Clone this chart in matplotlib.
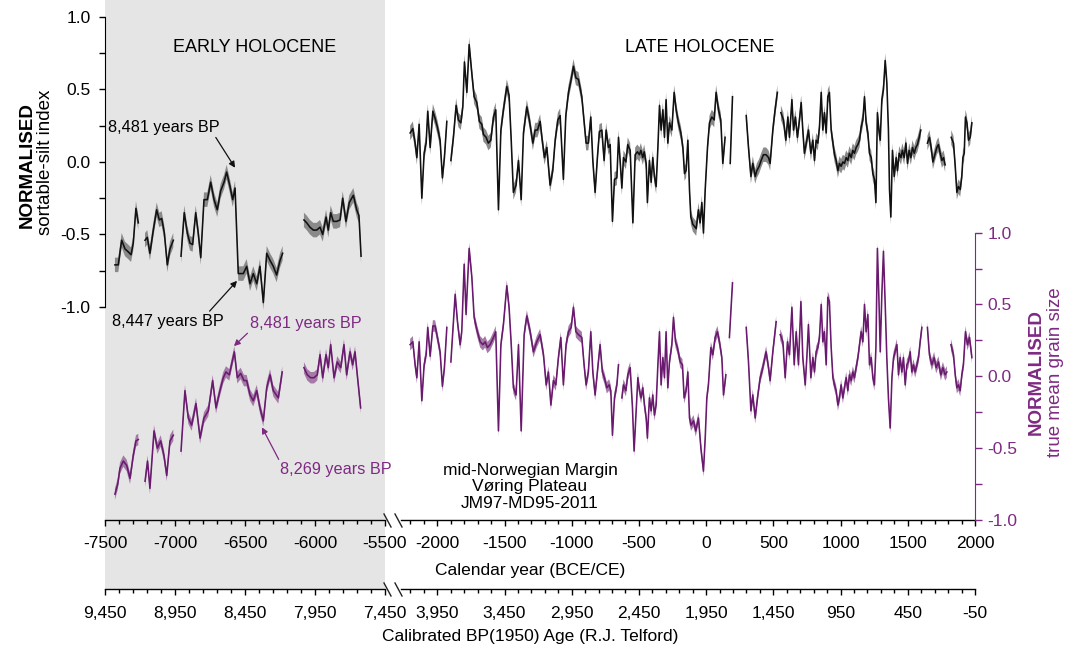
import numpy as np
import matplotlib
matplotlib.use('Agg')
import matplotlib.pyplot as plt
from matplotlib.ticker import FixedLocator, MultipleLocator, FormatStrFormatter, FuncFormatter
from matplotlib.patches import Rectangle
from matplotlib.lines import Line2D

plt.rcParams['font.family'] = ['Liberation Sans', 'DejaVu Sans']
plt.rcParams['axes.unicode_minus'] = False
plt.rcParams['font.size'] = 12.5

nan = np.nan

# ---- data: (calendar year, normalised value); nan marks a gap in the record ----
silt_early = [
    (-7429, -0.71), (-7405, -0.71), (-7381, -0.54), (-7357, -0.60), (-7334, -0.62), (-7314, -0.64),
    (-7298, -0.56), (-7279, -0.32), (-7262, -0.42), (-7240, nan),
    (-7214, -0.54), (-7198, -0.52), (-7179, -0.63), (-7155, -0.47), (-7131, -0.33), (-7112, -0.40),
    (-7095, -0.39), (-7076, -0.49), (-7055, -0.71), (-7036, -0.60), (-7012, -0.54), (-6985, nan),
    (-6957, -0.65), (-6934, -0.35), (-6912, -0.49), (-6893, -0.56), (-6874, -0.57), (-6852, -0.35),
    (-6834, -0.49), (-6816, -0.66), (-6793, -0.26), (-6769, -0.26), (-6745, -0.14), (-6721, -0.26),
    (-6698, -0.33), (-6674, -0.20), (-6650, -0.14), (-6631, -0.07), (-6607, -0.17), (-6588, -0.26),
    (-6571, -0.18), (-6548, -0.77), (-6512, -0.77), (-6488, -0.72), (-6464, -0.84), (-6441, -0.77),
    (-6416, -0.84), (-6393, -0.72), (-6369, -0.97), (-6345, -0.63), (-6321, -0.68), (-6298, -0.72),
    (-6274, -0.78), (-6250, -0.68), (-6231, -0.63), (-6150, nan),
    (-6079, -0.40), (-6059, -0.42), (-6036, -0.45), (-6012, -0.47), (-5988, -0.47), (-5964, -0.45),
    (-5945, -0.50), (-5921, -0.38), (-5905, -0.47), (-5888, -0.35), (-5869, -0.41), (-5845, -0.41),
    (-5821, -0.40), (-5802, -0.25), (-5779, -0.41), (-5755, -0.28), (-5726, -0.23), (-5702, -0.33),
    (-5686, -0.37), (-5671, -0.65),
]

silt_late = [
    (-2202, 0.20), (-2182, 0.23), (-2165, 0.13), (-2152, 0.03), (-2135, 0.26), (-2115, -0.25),
    (-2098, 0.06), (-2083, 0.13), (-2071, 0.35), (-2053, 0.10), (-2033, 0.35), (-2016, 0.30),
    (-1999, 0.24), (-1979, 0.15), (-1962, -0.11), (-1947, 0.03), (-1929, 0.28), (-1914, nan),
    (-1899, 0.01), (-1880, 0.17), (-1860, 0.39), (-1843, 0.29), (-1825, 0.27), (-1810, 0.38),
    (-1798, 0.69), (-1780, 0.48), (-1763, 0.81), (-1743, 0.61), (-1726, 0.45), (-1706, 0.41),
    (-1687, 0.28), (-1669, 0.26), (-1657, 0.19), (-1637, 0.17), (-1620, 0.13), (-1602, 0.15),
    (-1582, 0.31), (-1565, 0.36), (-1545, -0.33), (-1527, 0.22), (-1508, 0.36), (-1483, 0.52),
    (-1466, 0.46), (-1451, 0.17), (-1434, -0.21), (-1414, -0.16), (-1396, 0.01), (-1376, -0.26),
    (-1359, 0.20), (-1334, 0.38), (-1315, 0.29), (-1289, 0.13), (-1272, 0.22), (-1255, 0.22),
    (-1235, 0.28), (-1222, 0.17), (-1203, 0.03), (-1185, 0.10), (-1161, -0.16), (-1141, -0.06),
    (-1123, 0.15), (-1103, 0.29), (-1086, 0.32), (-1062, -0.12), (-1044, 0.32), (-1024, 0.48),
    (-1004, 0.57), (-987, 0.66), (-969, 0.58), (-950, 0.57), (-925, 0.45), (-908, 0.28),
    (-893, 0.13), (-876, 0.13), (-858, 0.31), (-843, 0.01), (-826, -0.21), (-809, 0.03),
    (-794, 0.21), (-776, 0.22), (-759, 0.01), (-744, 0.22), (-727, 0.10), (-714, 0.12),
    (-697, -0.41), (-682, -0.12), (-664, -0.11), (-652, 0.17), (-640, 0.01), (-627, -0.18),
    (-615, 0.03), (-597, 0.00), (-583, 0.12), (-565, 0.08), (-545, -0.42), (-528, 0.05),
    (-511, 0.07), (-496, 0.05), (-486, 0.08), (-471, 0.03), (-461, 0.07), (-446, -0.01),
    (-437, -0.28), (-422, 0.01), (-409, -0.14), (-397, 0.03), (-385, -0.10), (-372, -0.17),
    (-359, 0.10), (-347, 0.39), (-335, 0.22), (-322, 0.36), (-310, 0.17), (-298, 0.43),
    (-285, 0.13), (-273, 0.27), (-255, 0.22), (-238, 0.48), (-223, 0.36), (-206, 0.27),
    (-188, 0.20), (-173, 0.10), (-161, -0.08), (-149, -0.06), (-136, 0.15), (-124, -0.19),
    (-114, -0.38), (-99, -0.43), (-82, -0.45), (-74, -0.46), (-57, -0.33), (-45, -0.42),
    (-32, -0.28), (-20, -0.49), (-7, -0.19), (10, 0.10), (25, 0.27), (42, 0.31), (60, 0.29),
    (74, 0.48), (92, 0.36), (109, 0.29), (124, -0.01), (141, 0.17), (160, nan),
    (179, -0.01), (196, 0.45), (250, nan),
    (298, 0.32), (315, 0.10), (333, -0.10), (347, -0.01), (365, -0.10), (377, -0.06),
    (394, -0.03), (409, 0.01), (426, 0.05), (446, 0.05), (464, 0.03), (476, -0.01),
    (496, 0.22), (513, 0.36), (530, 0.48), (543, nan),
    (556, 0.34), (575, 0.29), (593, 0.15), (608, 0.31), (620, 0.17), (638, 0.43), (650, 0.22),
    (664, 0.31), (679, 0.17), (692, 0.27), (707, 0.41), (719, 0.22), (731, 0.06), (749, 0.15),
    (761, 0.22), (779, 0.06), (794, 0.15), (806, 0.01), (818, 0.15), (831, 0.13), (843, 0.24),
    (856, 0.48), (868, 0.22), (880, 0.34), (893, 0.20), (905, 0.45), (917, 0.48), (930, 0.22),
    (943, 0.13), (955, 0.05), (967, 0.01), (980, -0.06), (992, -0.01), (1004, -0.03),
    (1017, 0.00), (1029, -0.01), (1042, 0.03), (1054, 0.01), (1066, 0.06), (1079, 0.03),
    (1091, 0.08), (1103, 0.06), (1116, 0.10), (1129, 0.12), (1141, 0.15), (1153, 0.24),
    (1166, 0.29), (1178, 0.45), (1190, 0.27), (1203, 0.20), (1215, 0.06), (1228, 0.03),
    (1240, -0.08), (1252, -0.12), (1263, -0.28), (1274, 0.34), (1285, 0.22), (1295, 0.15),
    (1307, 0.43), (1319, 0.50), (1332, 0.70), (1344, 0.55), (1356, 0.22), (1364, -0.19),
    (1374, -0.38), (1386, 0.08), (1399, -0.10), (1414, 0.03), (1423, -0.06), (1436, 0.06),
    (1449, 0.03), (1460, 0.08), (1473, 0.03), (1486, 0.13), (1498, -0.01), (1510, 0.08),
    (1523, 0.03), (1535, 0.10), (1548, 0.06), (1560, 0.10), (1572, 0.12), (1585, 0.17),
    (1597, 0.22), (1620, nan),
    (1646, 0.13), (1661, 0.17), (1674, 0.10), (1687, 0.00), (1704, 0.06), (1716, 0.10),
    (1728, 0.12), (1741, 0.06), (1754, 0.01), (1766, 0.03), (1778, -0.02), (1800, nan),
    (1823, 0.17), (1840, 0.13), (1853, -0.03), (1865, -0.21), (1877, -0.17), (1890, -0.19),
    (1902, -0.10), (1910, 0.03), (1920, 0.06), (1929, 0.31), (1940, 0.27), (1952, 0.15),
    (1964, 0.17), (1977, 0.27),
]

grain_early = [
    (-7429, -0.82), (-7409, -0.75), (-7393, -0.64), (-7369, -0.59), (-7345, -0.62), (-7321, -0.71),
    (-7298, -0.55), (-7279, -0.45), (-7262, -0.44), (-7240, nan),
    (-7214, -0.73), (-7196, -0.59), (-7179, -0.78), (-7150, -0.38), (-7126, -0.50), (-7102, -0.45),
    (-7079, -0.55), (-7059, -0.69), (-7036, -0.45), (-7012, -0.41), (-6985, nan),
    (-6957, -0.52), (-6929, -0.10), (-6905, -0.29), (-6881, -0.34), (-6850, -0.19), (-6821, -0.43),
    (-6793, -0.29), (-6762, -0.24), (-6731, -0.03), (-6707, -0.22), (-6679, -0.10), (-6655, -0.01),
    (-6636, 0.03), (-6612, 0.01), (-6576, 0.17), (-6555, -0.01), (-6531, 0.02), (-6507, -0.03),
    (-6488, -0.03), (-6464, -0.13), (-6441, -0.17), (-6416, -0.10), (-6393, -0.22), (-6369, -0.31),
    (-6345, -0.08), (-6321, 0.01), (-6298, -0.10), (-6262, -0.15), (-6234, 0.03), (-6150, nan),
    (-6079, 0.06), (-6055, 0.01), (-6031, -0.01), (-6007, -0.01), (-5984, 0.01), (-5964, 0.15),
    (-5945, -0.01), (-5921, 0.15), (-5905, 0.06), (-5888, 0.22), (-5864, -0.01), (-5841, 0.10),
    (-5816, 0.06), (-5793, 0.22), (-5774, 0.01), (-5750, 0.17), (-5731, 0.08), (-5714, 0.17),
    (-5698, 0.01), (-5674, -0.22),
]

grain_late = [
    (-2202, 0.22), (-2182, 0.24), (-2165, 0.08), (-2152, -0.01), (-2135, 0.24), (-2115, -0.17),
    (-2098, 0.08), (-2083, 0.15), (-2071, 0.34), (-2053, 0.14), (-2033, 0.35), (-2016, 0.35),
    (-1999, 0.27), (-1979, 0.17), (-1962, -0.07), (-1947, 0.06), (-1929, 0.34), (-1914, nan),
    (-1899, 0.10), (-1880, 0.38), (-1867, 0.57), (-1850, 0.38), (-1830, 0.22), (-1818, 0.31),
    (-1800, 0.78), (-1786, 0.43), (-1763, 0.89), (-1743, 0.69), (-1726, 0.41), (-1702, 0.31),
    (-1681, 0.24), (-1661, 0.22), (-1644, 0.24), (-1627, 0.20), (-1607, 0.22), (-1582, 0.27),
    (-1565, 0.31), (-1545, -0.38), (-1527, 0.22), (-1508, 0.36), (-1483, 0.63), (-1466, 0.48),
    (-1451, 0.24), (-1434, -0.08), (-1414, -0.13), (-1396, 0.22), (-1376, -0.38), (-1354, 0.29),
    (-1334, 0.42), (-1309, 0.31), (-1285, 0.17), (-1260, 0.24), (-1235, 0.29), (-1210, 0.15),
    (-1190, -0.06), (-1173, 0.03), (-1155, -0.20), (-1136, -0.03), (-1118, -0.06), (-1099, 0.13),
    (-1081, 0.27), (-1062, -0.06), (-1042, 0.22), (-1024, 0.31), (-1004, 0.34), (-987, 0.48),
    (-969, 0.31), (-950, 0.29), (-925, 0.27), (-908, 0.08), (-893, -0.06), (-876, 0.03),
    (-858, 0.31), (-843, 0.03), (-826, -0.13), (-809, 0.03), (-789, 0.22), (-772, 0.03),
    (-757, -0.01), (-739, -0.08), (-722, -0.06), (-709, -0.10), (-697, -0.41), (-682, -0.15),
    (-664, -0.06), (-652, 0.08), (-640, nan),
    (-627, -0.15), (-615, -0.06), (-597, -0.10), (-583, 0.01), (-565, 0.06), (-548, -0.22),
    (-536, -0.52), (-521, -0.24), (-508, -0.01), (-496, -0.10), (-484, -0.15), (-471, -0.08),
    (-459, -0.20), (-446, -0.29), (-437, -0.43), (-422, -0.15), (-409, -0.24), (-397, -0.13),
    (-385, -0.27), (-372, -0.20), (-359, 0.08), (-347, 0.31), (-335, -0.06), (-322, 0.13),
    (-310, -0.01), (-298, 0.31), (-285, -0.08), (-273, 0.10), (-255, 0.22), (-243, 0.41),
    (-228, 0.24), (-214, 0.20), (-193, 0.10), (-176, 0.08), (-164, -0.15), (-149, -0.10),
    (-136, 0.03), (-124, -0.29), (-112, -0.34), (-94, -0.31), (-77, -0.38), (-62, -0.31),
    (-57, -0.29), (-39, -0.50), (-20, -0.66), (-7, -0.43), (5, -0.15), (17, -0.06), (35, 0.20),
    (50, 0.15), (67, 0.27), (84, 0.31), (99, 0.24), (117, 0.13), (129, -0.13), (147, 0.01),
    (160, nan), (173, 0.27), (196, 0.65), (250, nan),
    (298, 0.34), (315, 0.10), (333, -0.24), (347, -0.13), (365, -0.29), (382, -0.15),
    (402, -0.01), (414, 0.03), (426, 0.08), (446, 0.17), (464, 0.06), (476, -0.03),
    (496, 0.17), (521, 0.38), (536, nan),
    (551, 0.29), (571, 0.24), (588, -0.01), (605, 0.24), (620, 0.15), (638, 0.48), (655, 0.08),
    (670, 0.31), (687, 0.08), (705, 0.52), (719, 0.13), (737, -0.06), (749, 0.13), (761, 0.36),
    (779, -0.01), (794, 0.13), (806, 0.03), (818, 0.17), (831, 0.20), (843, 0.27), (856, 0.50),
    (868, 0.24), (880, 0.31), (893, 0.08), (905, 0.55), (917, 0.52), (930, 0.20), (943, -0.01),
    (955, -0.06), (967, -0.10), (980, -0.20), (992, -0.15), (1004, -0.06), (1017, -0.15),
    (1029, -0.08), (1042, -0.01), (1054, -0.10), (1066, 0.01), (1079, -0.03), (1091, 0.03),
    (1103, -0.01), (1116, 0.06), (1129, 0.13), (1141, 0.22), (1153, 0.31), (1166, 0.24),
    (1178, 0.50), (1190, 0.31), (1203, 0.43), (1215, 0.08), (1228, 0.13), (1240, -0.01),
    (1252, -0.06), (1263, 0.20), (1274, 0.89), (1285, 0.55), (1295, 0.17), (1307, 0.57),
    (1319, 0.87), (1332, 0.50), (1344, 0.13), (1356, -0.15), (1369, -0.36), (1382, -0.01),
    (1394, 0.13), (1419, 0.22), (1431, 0.01), (1443, 0.13), (1456, 0.03), (1468, 0.13),
    (1481, -0.06), (1493, 0.08), (1505, 0.10), (1518, 0.17), (1530, 0.03), (1542, 0.08),
    (1555, 0.03), (1568, 0.08), (1580, 0.13), (1592, 0.24), (1605, 0.34), (1625, nan),
    (1646, 0.34), (1661, 0.15), (1679, 0.08), (1696, 0.13), (1711, 0.06), (1728, 0.10),
    (1746, 0.01), (1761, 0.06), (1778, 0.01), (1791, 0.03), (1805, nan),
    (1821, 0.22), (1840, 0.15), (1853, 0.01), (1865, -0.08), (1877, -0.06), (1890, -0.10),
    (1902, 0.01), (1914, 0.08), (1929, 0.31), (1944, 0.22), (1959, 0.27), (1977, 0.13),
]

silt_err = 0.05    # half width of the grey uncertainty band
grain_err = 0.04

bp_ticks_early = [9450, 8950, 8450, 7950, 7450]
bp_ticks_late = [3950, 3450, 2950, 2450, 1950, 1450, 950, 450, -50]
norm_ticks = [-1.0, -0.5, 0.0, 0.5, 1.0]
norm_minor = [-0.75, -0.25, 0.25, 0.75]

BLACK = '#111111'
GREY_BAND = '#8a8a8a'
PURPLE = '#6a1a6e'
PURPLE_BAND = '#a47aa6'
PURPLE_TXT = '#7e2a82'

# ---- layout helpers (pixel -> figure fraction) ----
W, H = 1065, 651


def fx(px):
    return px / W


def fy(py):
    return 1 - py / H


fig = plt.figure(figsize=(W / 100, H / 100), dpi=100)

# grey early-holocene panel
fig.add_artist(Rectangle((fx(105), fy(589)), fx(385) - fx(105), fy(0) - fy(589),
                         transform=fig.transFigure, facecolor='#e5e5e5',
                         edgecolor='none', zorder=-1))

top, bot = 17, 520
ax1 = fig.add_axes([fx(105), fy(bot), fx(385) - fx(105), fy(top) - fy(bot)])
ax2 = fig.add_axes([fx(401), fy(bot), fx(975) - fx(401), fy(top) - fy(bot)])
ax1.set_xlim(-7500, -5500)
ax2.set_xlim(-2270, 2000)


def draw(ax, pairs, err, line_c, band_c):
    d = np.array(pairs, dtype=float)
    x, y = d[:, 0], d[:, 1]
    ax.fill_between(x, y - err, y + err, color=band_c, lw=0, zorder=2)
    ax.plot(x, y, color=line_c, lw=1.15, zorder=3)


twins = []
for ax, silt, grain in ((ax1, silt_early, grain_early), (ax2, silt_late, grain_late)):
    axp = ax.twinx()
    twins.append(axp)
    ax.set_ylim(-2.47, 1.0)
    axp.set_ylim(-1.0, 2.5)
    for a in (ax, axp):
        a.patch.set_visible(False)
        for s in a.spines.values():
            s.set_visible(False)
        a.yaxis.set_major_locator(FixedLocator(norm_ticks))
        a.yaxis.set_minor_locator(FixedLocator(norm_minor))
        a.yaxis.set_major_formatter(FormatStrFormatter('%.1f'))
        a.tick_params(axis='y', which='both', left=False, right=False,
                      labelleft=False, labelright=False)
    draw(ax, silt, silt_err, BLACK, GREY_BAND)
    draw(axp, grain, grain_err, PURPLE, PURPLE_BAND)

    ax.spines['bottom'].set_visible(True)
    ax.spines['bottom'].set_linewidth(1.0)
    ax.xaxis.set_major_locator(MultipleLocator(500))
    ax.xaxis.set_minor_locator(MultipleLocator(100))
    ax.tick_params(axis='x', which='major', length=4.5, width=1, pad=7, labelsize=12.5)
    ax.tick_params(axis='x', which='minor', length=2.7, width=1)

ax1p, ax2p = twins

# left axis: sortable silt
ax1.spines['left'].set_visible(True)
ax1.spines['left'].set_bounds(-1, 1)
ax1.tick_params(axis='y', which='both', left=True, labelleft=True, width=1)
ax1.tick_params(axis='y', which='major', length=4.5, pad=6, labelsize=12.5)
ax1.tick_params(axis='y', which='minor', length=4.5)

# right axis: grain size
ax2p.spines['right'].set_visible(True)
ax2p.spines['right'].set_bounds(-1, 1)
ax2p.spines['right'].set_color(PURPLE_TXT)
ax2p.tick_params(axis='y', which='both', right=True, labelright=True, width=1,
                 color=PURPLE_TXT, labelcolor=PURPLE_TXT)
ax2p.tick_params(axis='y', which='major', length=5, pad=4, labelsize=12.5)
ax2p.tick_params(axis='y', which='minor', length=5)

# calibrated BP axis under the calendar axis
conv = (lambda x: 1950 - x, lambda x: 1950 - x)
for ax, ticks in ((ax1, bp_ticks_early), (ax2, bp_ticks_late)):
    sec = ax.secondary_xaxis(-0.137, functions=conv)
    sec.xaxis.set_major_locator(FixedLocator(ticks))
    lo, hi = sorted(1950 - np.array(ax.get_xlim()))
    sec.xaxis.set_minor_locator(FixedLocator([t for t in np.arange(-50, 9451, 100) if lo <= t <= hi]))
    sec.xaxis.set_major_formatter(FuncFormatter(lambda v, p: f'{v:,.0f}'))
    sec.tick_params(axis='x', which='major', length=4.5, width=1, pad=8, labelsize=12.5)
    sec.tick_params(axis='x', which='minor', length=2.7, width=1)
    sec.spines['bottom'].set_linewidth(1.0)

# axis breaks
for yb in (520, 589):
    for x0 in (384, 395):
        fig.add_artist(Line2D([fx(x0), fx(x0 + 7)], [fy(yb - 6), fy(yb + 7)],
                              transform=fig.transFigure, color='#222222', lw=1))

# annotations
arrow = dict(arrowstyle='-|>', lw=0.9, mutation_scale=9, shrinkA=0, shrinkB=0)
ax1.annotate('8,481 years BP', xy=(-6571, -0.04), xytext=(-7080, 0.24), ha='center', va='center',
             size=11.7, arrowprops=dict(arrow, color=BLACK, relpos=(0.95, 0.0)))
ax1.annotate('8,447 years BP', xy=(-6557, -0.82), xytext=(-7050, -1.10), ha='center', va='center',
             size=11.7, arrowprops=dict(arrow, color=BLACK, relpos=(0.85, 1.0)))
ax1p.annotate('8,481 years BP', xy=(-6579, 0.21), xytext=(-6064, 0.37), ha='center', va='center',
              size=11.7, color=PURPLE_TXT, arrowprops=dict(arrow, color=PURPLE_TXT, relpos=(0.0, 0.0)))
ax1p.annotate('8,269 years BP', xy=(-6379, -0.355), xytext=(-5850, -0.65), ha='center', va='center',
              size=11.7, color=PURPLE_TXT, arrowprops=dict(arrow, color=PURPLE_TXT, relpos=(0.0, 1.0)))

# texts
fig.text(fx(255), fy(47), 'EARLY HOLOCENE', ha='center', va='center', size=13)
fig.text(fx(700), fy(47), 'LATE HOLOCENE', ha='center', va='center', size=13)
fig.text(fx(530), fy(487), 'mid-Norwegian Margin\nVøring Plateau\nJM97-MD95-2011',
         ha='center', va='center', size=12.5, linespacing=1.1)
fig.text(fx(530), fy(570), 'Calendar year (BCE/CE)', ha='center', va='center', size=12.5)
fig.text(fx(530), fy(636), 'Calibrated BP(1950) Age (R.J. Telford)', ha='center', va='center', size=12.5)

fig.text(fx(27), fy(165), 'NORMALISED', rotation=90, ha='center', va='center',
         size=13.5, weight='bold')
fig.text(fx(46), fy(162), 'sortable-silt index', rotation=90, ha='center', va='center', size=13.5)
fig.text(fx(1036), fy(372), 'NORMALISED', rotation=90, ha='center', va='center',
         size=13.5, weight='bold', color=PURPLE_TXT)
fig.text(fx(1055), fy(372), 'true mean grain size', rotation=90, ha='center', va='center',
         size=13.5, color=PURPLE_TXT)

fig.savefig('out.png', dpi=100)
